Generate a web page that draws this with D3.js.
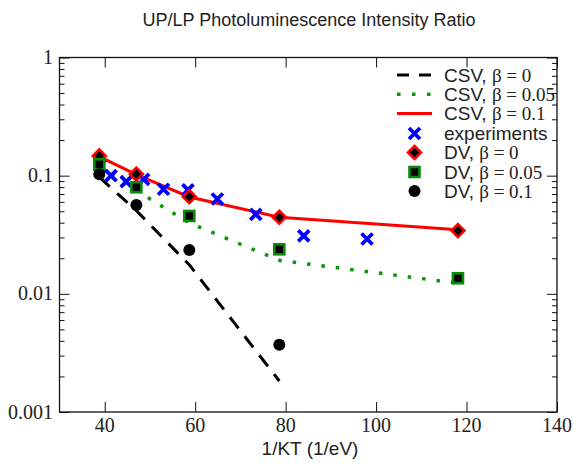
<!DOCTYPE html>
<html><head><meta charset="utf-8">
<script src="https://cdn.jsdelivr.net/npm/d3@7"></script>
<style>body{margin:0;background:#fff}</style>
</head><body>
<svg id="c" width="583" height="464"></svg>
<script>
// ---- data ----
const dvX = [38.8, 47.0, 58.7, 78.6, 118.1];
const csvBeta0 = [0.097, 0.0506, 0.0176, 0.00183];           // at dvX[0..3]
const csvBeta005 = [0.121, 0.0748, 0.0398, 0.0192, 0.0123];
const csvBeta01 = [0.145, 0.102, 0.066, 0.0445, 0.0348];
const dvBeta0 = [0.147, 0.103, 0.0664, 0.0445, 0.0343];
const dvBeta005 = [0.125, 0.0798, 0.0456, 0.0238, 0.01355];
const dvBeta01 = [0.103, 0.0565, 0.0235, 0.0037];
const expX = [38.9, 41.4, 44.75, 48.6, 53.0, 58.4, 64.9, 73.4, 84.0, 98.0];
const expY = [0.121, 0.100, 0.089, 0.093, 0.0767, 0.0757, 0.0635, 0.0471, 0.0309, 0.0291];
const xTicks = [40, 60, 80, 100, 120, 140];
const yTicks = [0.001, 0.01, 0.1, 1];
const yTickLabels = ["0.001", "0.01", "0.1", "1"];
const legendNames = ["CSV", "CSV", "CSV", "experiments", "DV", "DV", "DV"];
const legendBetas = ["0", "0.05", "0.1", null, "0", "0.05", "0.1"];

const svg = d3.select("#c");
const L = 59.5, R = 557, T = 57.5, B = 412;
const x = d3.scaleLinear().domain([30, 140]).range([L, R]);
const y = d3.scaleLog().domain([0.001, 1]).range([B, T]);

// title & labels
svg.append("text").attr("x", 309).attr("y", 26).attr("text-anchor", "middle")
  .attr("font-family", "Liberation Sans, Arial, sans-serif").attr("font-size", 18).attr("fill", "#222")
  .text("UP/LP Photoluminescence Intensity Ratio");
svg.append("text").attr("x", 310).attr("y", 455).attr("text-anchor", "middle")
  .attr("font-family", "Liberation Sans, Arial, sans-serif").attr("font-size", 19).attr("fill", "#222")
  .text("1/KT (1/eV)");

// frame
svg.append("rect").attr("x", L).attr("y", T).attr("width", R - L).attr("height", B - T)
  .attr("fill", "none").attr("stroke", "#111").attr("stroke-width", 1.3);

// axes with inward ticks
const minorY = [];
for (let e = -3; e < 0; e++) for (let m = 2; m <= 9; m++) minorY.push(m * Math.pow(10, e));
const axB = d3.axisBottom(x).tickValues(xTicks).tickSize(-10).tickFormat("").tickSizeOuter(0);
const axT = d3.axisTop(x).tickValues(xTicks).tickSize(-10).tickFormat("").tickSizeOuter(0);
const axL = d3.axisLeft(y).tickValues(yTicks).tickSize(-10).tickFormat("").tickSizeOuter(0);
const axR = d3.axisRight(y).tickValues(yTicks).tickSize(-10).tickFormat("").tickSizeOuter(0);
const axLm = d3.axisLeft(y).tickValues(minorY).tickSize(-5).tickFormat("").tickSizeOuter(0);
const axRm = d3.axisRight(y).tickValues(minorY).tickSize(-5).tickFormat("").tickSizeOuter(0);
[[axB, `translate(0,${B})`], [axT, `translate(0,${T})`], [axL, `translate(${L},0)`], [axR, `translate(${R},0)`],
 [axLm, `translate(${L},0)`], [axRm, `translate(${R},0)`]].forEach(([a, t]) => {
  const g = svg.append("g").attr("transform", t).call(a);
  g.select(".domain").remove();
  g.selectAll("line").attr("stroke", "#111").attr("stroke-width", 1);
});

// tick labels
svg.append("g").selectAll("text").data(xTicks).join("text")
  .attr("x", d => x(d)).attr("y", 432).attr("text-anchor", "middle")
  .attr("font-family", "Liberation Serif, Times New Roman, serif").attr("font-size", 20).attr("fill", "#222")
  .text(d => d);
svg.append("g").selectAll("text").data(yTicks).join("text")
  .attr("x", 53).attr("y", d => y(d) + 6.5).attr("text-anchor", "end")
  .attr("font-family", "Liberation Serif, Times New Roman, serif").attr("font-size", 20).attr("fill", "#222")
  .text((d, i) => yTickLabels[i]);

// lines
const plot = svg.append("g");
const line = d3.line().x(d => x(d[0])).y(d => y(d[1]));
plot.append("path").datum(csvBeta0.map((v, i) => [dvX[i], v])).attr("d", line)
  .attr("fill", "none").attr("stroke", "#000").attr("stroke-width", 3).attr("stroke-dasharray", "14,10");
plot.append("path").datum(csvBeta005.map((v, i) => [dvX[i], v])).attr("d", line)
  .attr("fill", "none").attr("stroke", "#0a960a").attr("stroke-width", 3.5).attr("stroke-dasharray", "3.5,11");
plot.append("path").datum(csvBeta01.map((v, i) => [dvX[i], v])).attr("d", line)
  .attr("fill", "none").attr("stroke", "#ff0000").attr("stroke-width", 3);

// marker drawers
function xMark(g, cx, cy) {
  g.append("path").attr("d", `M${cx-5.5},${cy-5.5}L${cx+5.5},${cy+5.5}M${cx-5.5},${cy+5.5}L${cx+5.5},${cy-5.5}`)
    .attr("stroke", "#0000ff").attr("stroke-width", 3.8).attr("fill", "none");
}
function diamond(g, cx, cy) {
  g.append("path").attr("d", `M${cx},${cy-6.5}L${cx+6.5},${cy}L${cx},${cy+6.5}L${cx-6.5},${cy}Z`)
    .attr("fill", "#000").attr("stroke", "#ff0000").attr("stroke-width", 2.6);
}
function square(g, cx, cy) {
  g.append("rect").attr("x", cx - 5).attr("y", cy - 5).attr("width", 10).attr("height", 10)
    .attr("fill", "#000").attr("stroke", "#0a8a0a").attr("stroke-width", 2.6);
}
function circle(g, cx, cy) {
  g.append("circle").attr("cx", cx).attr("cy", cy).attr("r", 6).attr("fill", "#000");
}
expX.forEach((v, i) => xMark(plot, x(v), y(expY[i])));
dvBeta0.forEach((v, i) => diamond(plot, x(dvX[i]), y(v)));
dvBeta005.forEach((v, i) => square(plot, x(dvX[i]), y(v)));
dvBeta01.forEach((v, i) => circle(plot, x(dvX[i]), y(v)));

// legend
const lg = svg.append("g");
const rowY = [75, 94.3, 113.5, 133.5, 152.5, 172, 191];
const sx0 = 397, sx1 = 432, smx = 414.5, tx = 444;
lg.append("line").attr("x1", sx0).attr("x2", sx1).attr("y1", rowY[0]).attr("y2", rowY[0])
  .attr("stroke", "#000").attr("stroke-width", 3).attr("stroke-dasharray", "12,10");
lg.append("line").attr("x1", sx0).attr("x2", sx1).attr("y1", rowY[1]).attr("y2", rowY[1])
  .attr("stroke", "#0a960a").attr("stroke-width", 3.5).attr("stroke-dasharray", "3.5,11.5");
lg.append("line").attr("x1", sx0).attr("x2", sx1).attr("y1", rowY[2]).attr("y2", rowY[2])
  .attr("stroke", "#ff0000").attr("stroke-width", 3);
xMark(lg, smx, rowY[3]);
diamond(lg, smx, rowY[4]);
square(lg, smx, rowY[5]);
circle(lg, smx, rowY[6]);
legendNames.forEach((n, i) => {
  const t = lg.append("text").attr("x", tx).attr("y", rowY[i] + 6.5).attr("fill", "#222").attr("font-size", 19)
    .attr("font-family", "Liberation Sans, Arial, sans-serif");
  if (legendBetas[i] === null) { t.text(n); return; }
  t.append("tspan").text(n + ", ");
  t.append("tspan").attr("font-family", "Liberation Serif, Times New Roman, serif").attr("font-size", 19)
    .text("β = " + legendBetas[i]);
});
</script>
</body></html>
